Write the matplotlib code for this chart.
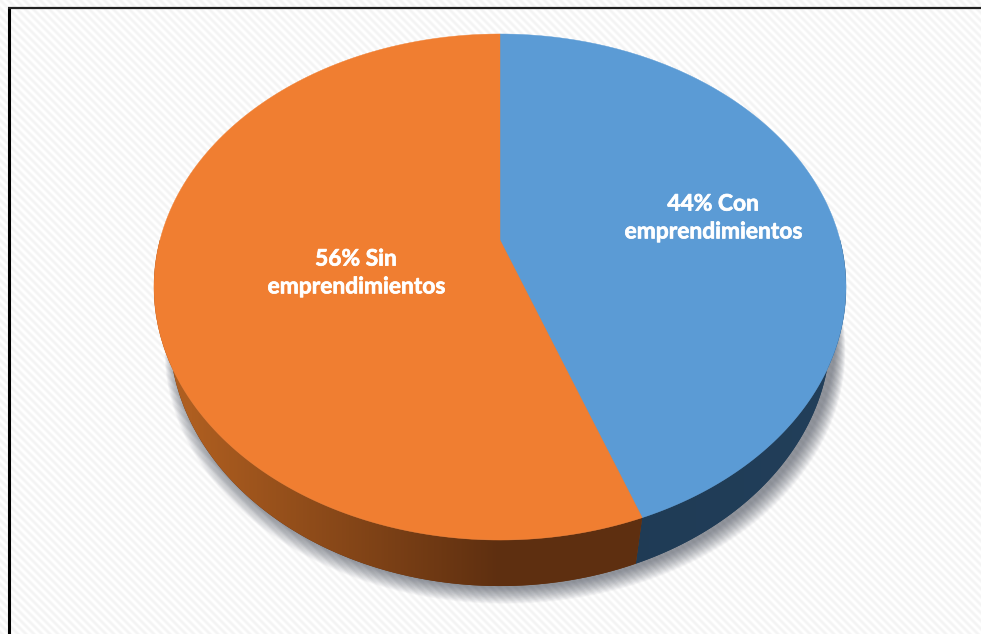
import numpy as np
import matplotlib
matplotlib.use("Agg")
import matplotlib.pyplot as plt
import matplotlib.patheffects as pe
from matplotlib.patches import Polygon
from matplotlib.colors import LinearSegmentedColormap

# Datos
shares = [44, 56]
labels = ["44% Con\nemprendimientos", "56% Sin\nemprendimientos"]
top_colors = ["#5B9BD5", "#F07E31"]
wall_colors = [["#1F3B55", "#223F5A"], ["#5E2F10", "#AE5E20"]]
label_pos = [(713, 218), (356, 273)]

# Perspektive der Torte (Pixel)
K = 0.1858
A = -199.7
APEX_Y = 240
CX = 500
C = 340
EDGE_FIX = 1.4  # Trennlinie sitzt im Original etwas weiter links


def project(theta, scale=1.0, dy=0.0):
    x = np.sin(theta)
    y = np.cos(theta)
    w = 1 + K * y
    return CX + scale * C * x / w, (A * y + APEX_Y) / w + dy


def arc(start, stop, n=200, scale=1.0, dy=0.0):
    th = np.radians(np.linspace(start, stop, n))
    return np.column_stack(project(th, scale, dy))


fig = plt.figure(figsize=(9.81, 6.34), dpi=100)
ax = fig.add_axes([0, 0, 1, 1])
ax.set_xlim(0, 981)
ax.set_ylim(634, 0)
ax.axis("off")

# Hintergrund: feine Diagonalstreifen
yy, xx = np.mgrid[0:634, 0:981]
stripes = ((xx - yy) % 8) / 8.0
stripes = 0.5 + 0.5 * np.cos(2 * np.pi * stripes)
ax.imshow(1 - 0.05 * stripes, cmap="gray", vmin=0, vmax=1, extent=(0, 981, 634, 0),
          aspect="auto", zorder=0, interpolation="nearest")

# Rahmen (rechts und unten gibt es keinen)
ax.plot([9, 9], [634, 8], color="black", lw=2.2, zorder=1, solid_capstyle="butt")
ax.plot([8, 981], [8, 8], color="#222222", lw=1.6, zorder=1, solid_capstyle="butt")

# Schatten
S = 0.955
DY = 46
for i in range(24):
    g = 24 - i
    rim = arc(0, 360, 300, S + g * 0.0012, DY + 1 + g * 0.7)
    rim[:, 0] += 5
    ax.add_patch(Polygon(rim, closed=True, fc="#2e3644", ec="none", alpha=0.028, zorder=2))

# Seitenwand und Verlauf
edge = 360 * shares[0] / 100 + EDGE_FIX
bands = [(90, edge), (edge, 270)]
x_ranges = [(600, 840), (190, 500)]
for (a, b), cols, xr in zip(bands, wall_colors, x_ranges):
    lo = arc(a, b, scale=S, dy=DY)
    hi = arc(a, b)
    poly = Polygon(np.vstack([hi, lo[::-1]]), closed=True, fc=cols[0], ec="none", zorder=3)
    ax.add_patch(poly)
    cmap = LinearSegmentedColormap.from_list("wall", cols)
    grad = np.clip((np.arange(150, 850) - xr[0]) / (xr[1] - xr[0]), 0, 1).reshape(1, -1)
    if xr[0] < 500:
        grad = 1 - grad
    im = ax.imshow(grad, cmap=cmap, extent=(150, 850, 634, 0), aspect="auto", zorder=3,
                   vmin=0, vmax=1)
    im.set_clip_path(poly)
ax.set_xlim(0, 981)
ax.set_ylim(634, 0)

# Deckel
starts = [0, edge]
stops = [edge, 360]
for a, b, col in zip(starts, stops, top_colors):
    pts = np.vstack([[CX, APEX_Y], arc(a, b)])
    ax.add_patch(Polygon(pts, closed=True, fc=col, ec=col, lw=0.3, zorder=4))

for txt, (x, y) in zip(labels, label_pos):
    t = ax.text(x, y, txt, color="white", fontsize=16.4, fontweight="bold", family="Lato",
                ha="center", va="center", linespacing=1.4, zorder=5)
    t.set_path_effects([pe.withStroke(linewidth=0.5, foreground="white")])

fig.savefig("out.png", dpi=100)
